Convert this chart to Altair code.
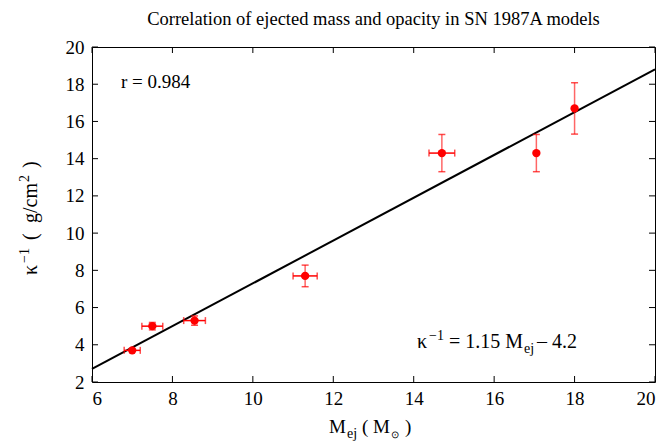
import altair as alt
import pandas as pd

# ---- data ----
chart_title = "Correlation of ejected mass and opacity in SN 1987A models"
m_ej = [7.0, 7.5, 8.55, 11.3, 14.7, 17.05, 18.0]
inv_kappa = [3.7, 5.0, 5.3, 7.7, 14.3, 14.3, 16.7]
m_err = [0.2, 0.26, 0.27, 0.3, 0.32, 0.0, 0.0]
k_err = [0.0, 0.2, 0.25, 0.58, 1.0, 1.0, 1.38]
fit_x = [6, 20]
fit_y = [2.7, 18.8]
x_ticks = [6, 8, 10, 12, 14, 16, 18, 20]
y_ticks = [2, 4, 6, 8, 10, 12, 14, 16, 18, 20]
r_text = "r = 0.984"

W, H = 563, 335
FONT = "Liberation Serif"
RED = "#ff0000"

pts = pd.DataFrame({"m": m_ej, "k": inv_kappa, "me": m_err, "ke": k_err})
pts["klo"] = pts["k"] - pts["ke"]
pts["khi"] = pts["k"] + pts["ke"]
pts["mlo"] = pts["m"] - pts["me"]
pts["mhi"] = pts["m"] + pts["me"]
ypts = pts[pts["ke"] > 0]
xpts = pts[pts["me"] > 0]
ycaps = pd.concat([
    pd.DataFrame({"m": ypts["m"], "v": ypts["klo"]}),
    pd.DataFrame({"m": ypts["m"], "v": ypts["khi"]}),
])
xcaps = pd.concat([
    pd.DataFrame({"k": xpts["k"], "v": xpts["mlo"]}),
    pd.DataFrame({"k": xpts["k"], "v": xpts["mhi"]}),
])
fit = pd.DataFrame({"m": fit_x, "k": fit_y})

xs = alt.Scale(domain=[6, 20], nice=False, zero=False)
ys = alt.Scale(domain=[2, 20], nice=False, zero=False)
xax = alt.Axis(values=x_ticks, title=None, labelPadding=7, labelOverlap=False)
yax = alt.Axis(values=y_ticks, title=None, labelPadding=8, labelOverlap=False)


def X(field):
    return alt.X(field, scale=xs, axis=xax)


def Y(field):
    return alt.Y(field, scale=ys, axis=yax)


line = alt.Chart(fit).mark_line(color="black", strokeWidth=2).encode(
    x=X("m:Q"), y=Y("k:Q")
)

ybars = alt.Chart(ypts).mark_rule(color=RED, strokeWidth=1.5, opacity=0.6).encode(
    x=X("m:Q"), y=Y("klo:Q"), y2="khi:Q"
)
ycap = alt.Chart(ycaps).mark_tick(color=RED, orient="horizontal", size=7, thickness=1.5).encode(
    x=X("m:Q"), y=Y("v:Q")
)
xbars = alt.Chart(xpts).mark_rule(color=RED, strokeWidth=1.5).encode(
    x=X("mlo:Q"), x2="mhi:Q", y=Y("k:Q")
)
xcap = alt.Chart(xcaps).mark_tick(color=RED, orient="vertical", size=7, thickness=1.5).encode(
    x=X("v:Q"), y=Y("k:Q")
)
dots = alt.Chart(pts).mark_circle(color=RED, size=70, opacity=1).encode(
    x=X("m:Q"), y=Y("k:Q")
)

xt = pd.DataFrame({"t": x_ticks})
yt = pd.DataFrame({"t": y_ticks})
tick_len = 6
t_bottom = alt.Chart(xt).mark_rule(color="black", strokeWidth=1).encode(
    x=X("t:Q"), y=alt.value(H), y2=alt.value(H - tick_len))
t_top = alt.Chart(xt).mark_rule(color="black", strokeWidth=1).encode(
    x=X("t:Q"), y=alt.value(0), y2=alt.value(tick_len))
t_left = alt.Chart(yt).mark_rule(color="black", strokeWidth=1).encode(
    y=Y("t:Q"), x=alt.value(0), x2=alt.value(tick_len))
t_right = alt.Chart(yt).mark_rule(color="black", strokeWidth=1).encode(
    y=Y("t:Q"), x=alt.value(W), x2=alt.value(W - tick_len))


def txt(s, x, y, size=19, align="left", baseline="alphabetic", angle=0):
    kw = dict(font=FONT, fontSize=size, align=align, baseline=baseline, color="black")
    if angle:
        kw["angle"] = angle
    return alt.Chart(pd.DataFrame({"s": [s]})).mark_text(**kw).encode(
        text="s:N", x=alt.value(x), y=alt.value(y))


YB, YS = -55, -63  # y-title baseline (main / superscript), rotated
texts = [
    txt(chart_title, W / 2, -22, size=18.5, align="center"),
    txt(r_text, 29, 41),
    # fit formula
    txt("κ", 325, 301, size=20),
    txt("−1", 337, 293, size=14),
    txt("= 1.15 M", 431, 301, size=20, align="right"),
    txt("ej", 432, 306, size=14),
    txt("– 4.2", 445, 301, size=20),
    # x axis title
    txt("M", 254, 386, align="right"),
    txt("ej", 255, 391, size=14),
    txt("( M", 270, 386),
    txt("⊙", 299, 391, size=10),
    txt(")", 313, 386),
    # y axis title (rotated pieces, reading bottom to top)
    txt("κ", YB, 228, size=20, angle=270),
    txt("−1", YS, 216, size=14, angle=270),
    txt("(", YB, 193, size=20, angle=270),
    txt("g/cm", YB, 176, size=20, angle=270),
    txt("2", YS, 135, size=14, angle=270),
    txt(")", YB, 121, size=20, angle=270),
]

chart = alt.layer(
    line, ybars, ycap, xbars, xcap, dots, t_bottom, t_top, t_left, t_right, *texts
).properties(
    width=W, height=H,
    autosize=alt.AutoSizeParams(type="none"),
    padding={"left": 92, "top": 47, "right": 11, "bottom": 62},
).configure_view(
    stroke="black", strokeWidth=1
).configure_axis(
    labelFont=FONT, labelFontSize=19, labelColor="black", grid=False,
    domain=False, ticks=False, labelOverlap=False,
)

chart.save("out.html", embed_options={"renderer": "svg", "actions": False})
